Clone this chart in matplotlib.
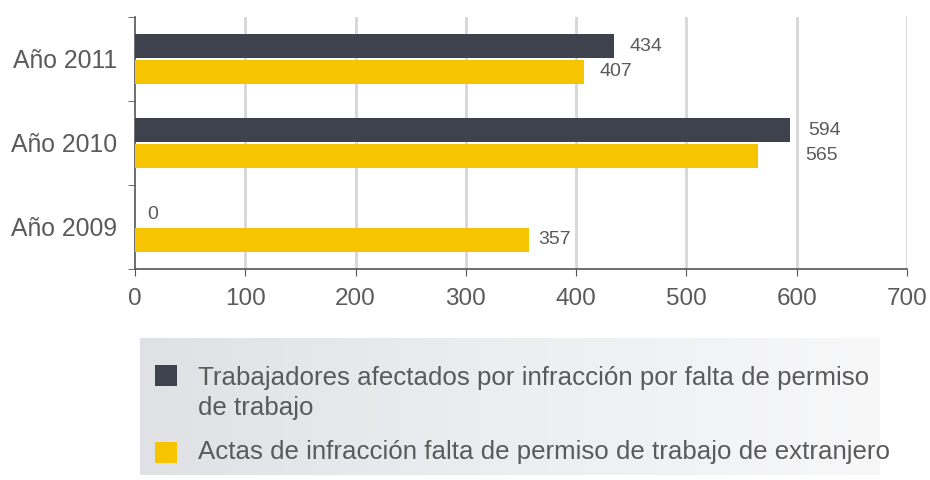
import matplotlib
matplotlib.use("Agg")
import matplotlib.pyplot as plt
import numpy as np
from matplotlib.patches import Rectangle
from matplotlib.colors import LinearSegmentedColormap

categories = ["Año 2011", "Año 2010", "Año 2009"]
trabajadores = [434, 594, 0]
actas = [407, 565, 357]
series_names = ["Trabajadores afectados por infracción por falta de permiso\nde trabajo",
                "Actas de infracción falta de permiso de trabajo de extranjero"]
xticks = [0, 100, 200, 300, 400, 500, 600, 700]

dark = "#3d424d"
yellow = "#f6c400"
txt = "#5a5a5a"
FONT = "Liberation Sans"

# per-label horizontal offsets in pixels (style)
off_dark = [16, 18, 12]
off_yel = [16, 47, 9]

fig = plt.figure(figsize=(9.3, 4.8), dpi=100)
ax = fig.add_axes([135/930, 1-269/480, (907-135)/930, (269-17)/480])

y = np.arange(len(categories))
h = 0.29
d = 0.152
b1 = ax.barh(y - d, trabajadores, height=h, color=dark, zorder=3)
b2 = ax.barh(y + d, actas, height=h, color=yellow, zorder=3)

ax.set_xlim(0, 700)
ax.set_ylim(2.5, -0.5)
ax.set_xticks(xticks)
ax.set_xticklabels([str(t) for t in xticks], fontsize=17.5, color=txt, family=FONT)
ax.set_yticks(y)
ax.set_yticklabels(categories, fontsize=17.8, color=txt, family=FONT)
ax.set_yticks([-0.5, 0.5, 1.5, 2.5], minor=True)
ax.tick_params(axis="y", which="major", length=0, pad=13)
ax.tick_params(axis="y", which="minor", length=5, color="#555555", direction="out")
ax.tick_params(axis="x", length=5, color="#555555", pad=9)

for xv in xticks[1:]:
    ax.axvline(xv, color="#d6d6d6", lw=2, zorder=1)

for s in ["top", "right"]:
    ax.spines[s].set_visible(False)
for s in ["left", "bottom"]:
    ax.spines[s].set_color("#555555")
    ax.spines[s].set_linewidth(1.2)

for i, (v, o) in enumerate(zip(trabajadores, off_dark)):
    ax.annotate(str(v), (v, y[i] - d), xytext=(o * 0.72, 0), textcoords="offset points",
                va="center", ha="left", fontsize=14, color=txt, family=FONT)
for i, (v, o) in enumerate(zip(actas, off_yel)):
    ax.annotate(str(v), (v, y[i] + d), xytext=(o * 0.72, 0), textcoords="offset points",
                va="center", ha="left", fontsize=14, color=txt, family=FONT)

# legend area with gradient background
lax = fig.add_axes([140/930, 1-475/480, 740/930, 137/480])
grad = np.linspace(0, 1, 256).reshape(1, -1)
cmap = LinearSegmentedColormap.from_list("g", ["#dfe1e5", "#eceef0", "#f8f8f9"])
lax.imshow(grad, aspect="auto", cmap=cmap, extent=[0, 1, 0, 1])
lax.set_xlim(0, 1)
lax.set_ylim(0, 1)
lax.axis("off")

def fx(px):
    return px / 930
def fy(py):
    return 1 - py / 480

fig.patches.append(Rectangle((fx(155), fy(386)), 22/930, 21/480, transform=fig.transFigure,
                             facecolor=b1.patches[0].get_facecolor(), edgecolor="none", zorder=5))
fig.patches.append(Rectangle((fx(155), fy(463)), 22/930, 21/480, transform=fig.transFigure,
                             facecolor=b2.patches[0].get_facecolor(), edgecolor="none", zorder=5))
lines = series_names[0].split("\n")
for k, line in enumerate(lines):
    fig.text(fx(198), fy(378 + 30 * k), line, fontsize=18.6, color=txt, family=FONT,
             va="center", ha="left", zorder=6)
fig.text(fx(198), fy(452), series_names[1], fontsize=18.6, color=txt, family=FONT,
         va="center", ha="left", zorder=6)

fig.savefig("out.png", dpi=100)
